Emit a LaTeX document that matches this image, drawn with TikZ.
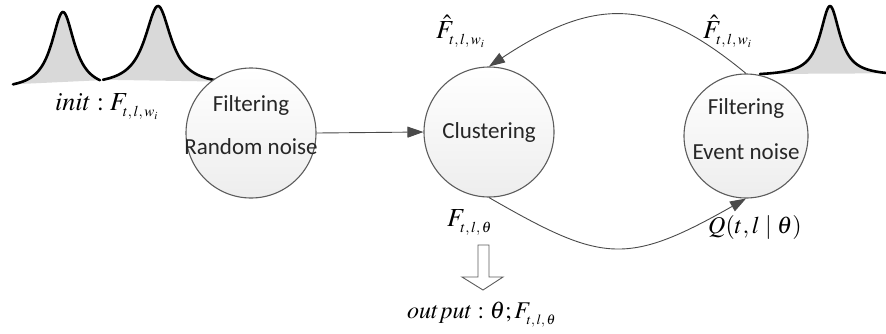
\documentclass[tikz,border=0pt]{standalone}
\usepackage{mathptmx}
\usepackage[no-math]{fontspec}
\newfontfamily\calfont{Carlito}
\usetikzlibrary{arrows.meta}

% script sizes for the formula labels
\DeclareMathSizes{26}{26}{15}{11}
\DeclareMathSizes{24}{24}{14}{10}
% subscript set a little lower than usual
\newcommand\dsub[1]{_{\lower3pt\hbox{$\scriptstyle #1$}}}

\definecolor{edgec}{HTML}{4A4A4A}
\definecolor{ringc}{HTML}{5C5C5C}
\definecolor{peakfill}{HTML}{D9D9D9}

\begin{document}
\begin{tikzpicture}[x=1pt,y=-1pt,
  state/.style={circle, draw=ringc, line width=1.1pt, top color=white,
    bottom color=gray!14, minimum size=130pt, inner sep=0pt},
  sans/.style={font=\calfont\fontsize{23}{26}\selectfont, text=black!85, inner sep=0pt},
  mlbl/.style={font=\fontsize{26}{30}\selectfont, inner sep=0pt, anchor=base west},
  flow/.style={draw=edgec, line width=0.9pt, -{Triangle[length=16pt,width=11pt]}},
  peakline/.style={line width=2.6pt, line cap=round, line join=round},
]
\useasboundingbox (0,0) rectangle (886,333);

% three Lorentzian-shaped peaks, shaded underneath
\fill[peakfill] plot[domain=13:100,samples=120] (\x,{90-78/(1+((\x-63)/14)^2)}) -- cycle;
\draw[peakline] plot[domain=13:100,samples=120] (\x,{90-78/(1+((\x-63)/14)^2)});
\fill[peakfill] plot[domain=103:225,samples=140] (\x,{86-80/(1+((\x-158)/16)^2)}) -- cycle;
\draw[peakline] plot[domain=103:225,samples=140] (\x,{86-80/(1+((\x-158)/16)^2)});
\fill[peakfill] plot[domain=760:890,samples=140] (\x,{76-70/(1+((\x-830)/12)^2)}) -- cycle;
\draw[peakline] plot[domain=760:890,samples=140] (\x,{76-70/(1+((\x-830)/12)^2)});

% processing stages
\node[state] (rn) at (251,133) {};
\node[state] (cl) at (489,132) {};
\node[state, minimum size=124pt] (ev) at (746,136) {};

\node[sans] (rnA) at (251,105) {Filtering};
\node[sans] (rnB) at (251,147) {Random noise};
\node[sans] (clA) at (489,132) {Clustering};
\node[sans] (evA) at (746,108) {Filtering};
\node[sans] (evB) at (746,152) {Event noise};

% connectors
\draw[flow] (rn.east) -- (cl.west);
\draw[flow] (ev.north) .. controls +(-93,-77) and +(106,-70) .. (cl.north);
\draw[flow] (cl.south) .. controls +(113,65) and +(-120,68) .. (ev.south);

% formula labels
\node[mlbl] (init) at (55,110) {$init:F\dsub{t,\,l,\,w_i}$};
\node[mlbl] (fhl) at (436,38) {$\hat{F}\dsub{t,\,l,\,w_i}$};
\node[mlbl] (fhr) at (703,38) {$\hat{F}\dsub{t,\,l,\,w_i}$};
\node[mlbl] (ftheta) at (447,226) {$F\dsub{t,\,l,\,\theta}$};
\node[mlbl, font=\fontsize{24}{28}\selectfont] (qlbl) at (708,233) {$Q(t,l\mid\theta)$};
\node[mlbl, font=\fontsize{24}{28}\selectfont] (out) at (407,318) {$output:\theta;F\dsub{t,\,l,\,\theta}$};

% hollow output arrow
\draw[draw=ringc, line width=0.9pt, fill=white, line join=miter]
  (478,245) -- (489,245) -- (489,277) -- (503,277) -- (483,290)
  -- (462,277) -- (478,277) -- cycle;
\end{tikzpicture}
\end{document}
